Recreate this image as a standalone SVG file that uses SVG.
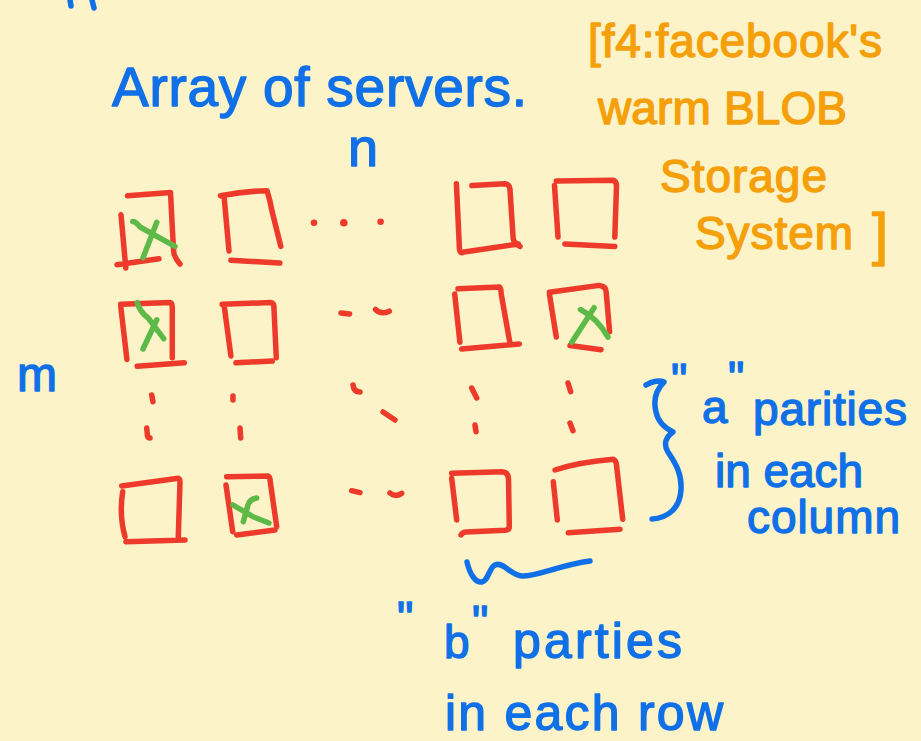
<svg xmlns="http://www.w3.org/2000/svg" width="921" height="741" viewBox="0 0 921 741">
<style>
.bg{fill:#FCF4C8}
.pen{fill:none;stroke-linecap:round;stroke-linejoin:round;stroke-width:5.5}
.red{stroke:#EE3A2A}
.green{stroke:#5EBA48}
.blue{stroke:#1070E8}
.dot{fill:#EE3A2A}
.t{font-family:"Liberation Sans",Arial,sans-serif;stroke-width:1.4;stroke-linejoin:round}
.tb{fill:#1070E8;stroke:#1070E8}
.to{fill:#F5A00A;stroke:#F5A00A}
</style>
<rect class="bg" x="0" y="0" width="921" height="741"/>

<g id="top-mark"><path class="pen blue" d="M70,0 L71,6 M92,0 L94,8" stroke-width="7"/></g>

<g id="title"><text class="t tb" x="112" y="106" font-size="55" textLength="415" lengthAdjust="spacing">Array of servers.</text></g>
<g id="label-n"><text class="t tb" x="348" y="166" font-size="54">n</text></g>
<g id="label-m"><text class="t tb" x="17" y="391" font-size="48">m</text></g>

<g id="note-f4">
<text class="t to" x="588" y="57" font-size="46" textLength="294" lengthAdjust="spacing">[f4:facebook's</text>
<text class="t to" x="598" y="124" font-size="46" textLength="249" lengthAdjust="spacing">warm BLOB</text>
<text class="t to" x="660" y="192" font-size="46" textLength="167" lengthAdjust="spacing">Storage</text>
<text class="t to" x="695" y="249" font-size="46" textLength="158" lengthAdjust="spacing">System</text>
<text class="t to" x="872" y="254" font-size="58">]</text>
</g>

<g id="server-r1c1">
<path class="pen red" d="M127.5,195.8 L170.6,192.4 M170.6,194 C172,220 173,245 174,254 Q176,260 180,264 M121,214.8 L125.8,268 M117,264.7 L159,258.8"/>
<path class="pen green" d="M132.7,221.6 Q136,222 140,227 L175,246.4 M156.8,222.3 L143,257.8"/>
</g>
<g id="server-r1c2"><path class="pen red" d="M220.5,195.8 Q245,191 267,190.7 Q270,200 272,211 L280.8,246.4 M224,195.8 L229,251 M230.9,260.2 L279.8,263"/></g>
<g id="ellipsis-r1">
<circle class="dot" cx="314" cy="222.7" r="3.3"/><circle class="dot" cx="343.8" cy="222.7" r="3.8"/><circle class="dot" cx="380.6" cy="221.7" r="3.3"/>
</g>
<g id="server-r1c3"><path class="pen red" d="M456.4,183.8 L459.5,250 Q460,254 464,252 L518.4,244 M471.9,185.5 L504.6,183.8 Q509.8,184 510,190 L513.2,238.9 Q514,243 520,246.4"/></g>
<g id="server-r1c4"><path class="pen red" d="M554.5,185.5 L558,237 M556.3,181 L613,180.3 Q616.5,181 616.5,186 L614.8,237 M564.9,244 L614.8,246.4"/></g>

<g id="server-r2c1">
<path class="pen red" d="M120.7,304.3 L170.6,302.6 Q172.3,303 172.3,308 L172.3,357.7 M120.7,306 L126.9,359.4 M137.2,366.3 L184.4,362.8"/>
<path class="pen green" d="M137.2,302.6 Q140,312 148.2,318 L163.7,338.7 M156.8,319.8 L143,349"/>
</g>
<g id="server-r2c2"><path class="pen red" d="M222.2,304.3 L270.5,302.6 Q273.9,303 273.9,307 L276.3,357.7 M224,304.3 L230.9,356 M236,362.8 L272.2,361.1"/></g>
<g id="ellipsis-r2"><path class="pen red" d="M341,312.9 L349.6,314 M375.5,309.5 Q381,315 389.3,311.2"/></g>
<g id="server-r2c3"><path class="pen red" d="M458,288.8 L499.4,287 Q501.2,288 501.2,294 L509.8,342.2 M454.7,294 L459.9,342.2 M461.6,349 L519.4,343.9"/></g>
<g id="server-r2c4">
<path class="pen red" d="M549.4,292.2 L599.3,285.4 Q606.2,286 606.2,292.2 L609.6,331.8 M549.4,294 L556.3,337 M570,345.6 L601,349.7"/>
<path class="pen green" d="M571.8,342.2 L594.1,307.7 M580.4,309.5 Q597,318 608,337"/>
</g>

<g id="ellipsis-columns">
<path class="pen red" d="M151.7,395 L153,401.7 M146.7,428 L147.5,436 Q148,438 150,438 M233,396 L233,400 M240,428 L240.7,438 M353,385 Q354,392 360,392 M383,412 L395,420 M471.7,388 L476.7,398 M475,425 L476,431.7 M568,383 L570.7,391.7 M570,423 L573,430.7"/>
</g>

<g id="server-r3c1"><path class="pen red" d="M121.7,486 L178.3,478.3 Q180,479 180,482 L178.3,536.7 M122.7,491.7 Q119,515 125,536.7 M126,541.7 L185,540"/></g>
<g id="server-r3c2">
<path class="pen red" d="M226.7,476.7 L268.3,476 Q270,477 270,480 L276.7,526.7 M226,485 L232.7,531.7 M236.7,535 L275,530"/>
<path class="pen green" d="M233,505 Q245,512 253,516.7 L269,523 M256.7,498 Q250,499 248,505 L243.3,521.7"/>
</g>
<g id="ellipsis-r3"><path class="pen red" d="M351.7,490.7 L360,492.7 M390,493 Q395,497.5 401.7,493.3"/></g>
<g id="server-r3c3"><path class="pen red" d="M451.7,473.3 L501.7,471.7 Q508.3,472 508.5,479 L509.3,526 Q509.5,530 505,530.3 L466,532 Q462,532.5 461,535 M451.7,478.3 L456.7,520"/></g>
<g id="server-r3c4"><path class="pen red" d="M555,470 Q580,462 613.3,459.3 Q616.7,461 616.7,466.7 L622.7,519.3 M553.3,481.7 L557.3,520 M568.3,532.7 L620,529.3"/></g>

<g id="connectors">
<path id="brace-a" class="pen blue" d="M646,385 C652,381 660,380 664,382 C656,390 653,400 656,412 C658,422 665,428 673,432 C666,437 663,444 668,452 C676,464 682,474 681,490 C680,508 668,518 652,519"/>
<path id="wave-b" class="pen blue" d="M467,562 C470,575 476,583 482,582 C488,581 489,568 495,565 C503,561 510,575 522,576 C535,577 560,565 590,561"/>
</g>

<g id="label-a">
<text class="t tb" x="671" y="396" font-size="46">"</text>
<text class="t tb" x="702" y="423" font-size="46">a</text>
<text class="t tb" x="728" y="394" font-size="46">"</text>
<text class="t tb" x="753" y="425" font-size="46" textLength="154" lengthAdjust="spacing">parities</text>
<text class="t tb" x="715" y="487" font-size="46" textLength="148" lengthAdjust="spacing">in each</text>
<text class="t tb" x="747" y="533" font-size="46" textLength="153" lengthAdjust="spacing">column</text>
</g>

<g id="label-b">
<text class="t tb" x="397" y="634" font-size="46">"</text>
<text class="t tb" x="444" y="658" font-size="46">b</text>
<text class="t tb" x="472" y="638" font-size="46">"</text>
<text class="t tb" x="513" y="658" font-size="50" textLength="169" lengthAdjust="spacing">parties</text>
<text class="t tb" x="445" y="730" font-size="50" textLength="278" lengthAdjust="spacing">in each row</text>
</g>
</svg>
